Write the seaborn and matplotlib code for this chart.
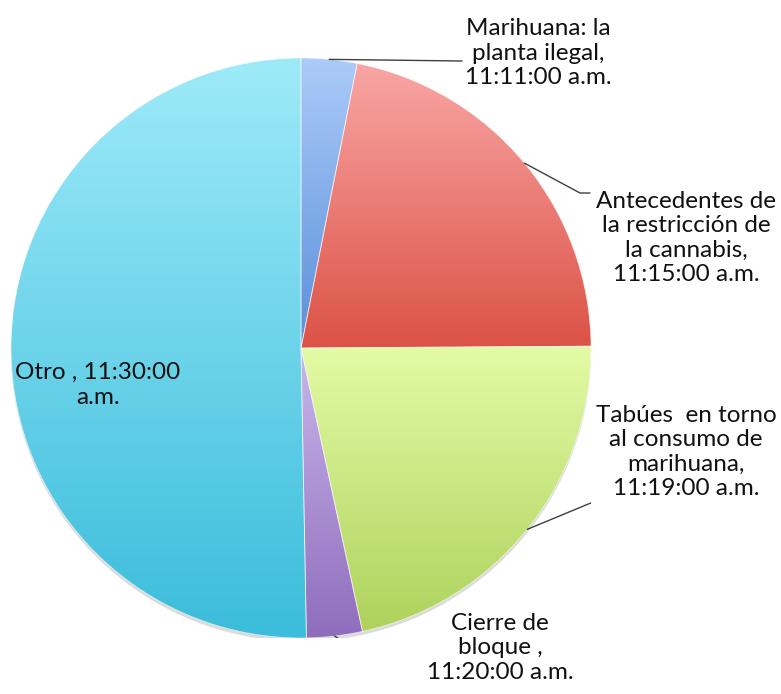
import numpy as np
import matplotlib
matplotlib.use("Agg")
import matplotlib.pyplot as plt
import seaborn as sns
from matplotlib.patches import Circle

# datos del gráfico (porcentaje aproximado de cada bloque)
labels = ["Marihuana: la\nplanta ilegal,\n11:11:00 a.m.",
          "Antecedentes de\nla restricción de\nla cannabis,\n11:15:00 a.m.",
          "Tabúes  en torno\nal consumo de\nmarihuana,\n11:19:00 a.m.",
          "Cierre de\nbloque ,\n11:20:00 a.m.",
          "Otro , 11:30:00\na.m."]
shares = [3.1, 21.8, 21.7, 3.1, 50.3]
# colores degradados (arriba, abajo)
top_colors = ["#abcbf9", "#f9a6a4", "#e3fba6", "#c9b6ea", "#9eeaf9"]
bottom_colors = ["#5a8fd9", "#dc5246", "#aed25c", "#8f6dbd", "#3bbddb"]

# posiciones de etiquetas en pixeles (x, y desde arriba) y codos de las guias
label_pos = [(538, 53), (686, 238), (686, 452), (500, 648), (98, 385)]
elbows = [[(462, 61)], [(580, 193), (590, 193)], [(598, 500), (607, 500)],
          [(415, 687), (422, 687)], None]

W, H = 781, 694
cx, cy, R = 301, 348, 290

sns.set_theme(style="white")
plt.rcParams['font.family'] = ['Lato', 'DejaVu Sans']

fig = plt.figure(figsize=(W / 100, H / 100), dpi=100)
ax = fig.add_axes([(cx - R) / W, (H - cy - R) / H, 2 * R / W, 2 * R / H])


def px(p):
    return ((p[0] - cx) / R, (cy - p[1]) / R)


# sombra suave
ax.add_patch(Circle((0.0, -0.012), 1.0, color="#9a9a9a", alpha=0.35, lw=0, zorder=0))

wedges, _ = ax.pie(shares, startangle=90, counterclock=False, radius=1.0,
                   wedgeprops=dict(edgecolor="white", linewidth=0.6))

for i, w in enumerate(wedges):
    w.set_alpha(None)
    w.set_facecolor("none")
    w.set_edgecolor((1, 1, 1, 0.6))
    w.set_zorder(2)
    bb = w.get_path().get_extents()
    grad = np.array(sns.blend_palette([top_colors[i], bottom_colors[i]], n_colors=256))
    img = ax.imshow(grad[:, None, :], extent=(bb.x0, bb.x1, bb.y0, bb.y1),
                    origin="upper", aspect="auto", zorder=1, interpolation="bilinear")
    img.set_clip_path(w)

    # linea guia
    if elbows[i] is not None:
        ang = np.deg2rad((w.theta1 + w.theta2) / 2)
        pts = [(np.cos(ang), np.sin(ang))] + [px(e) for e in elbows[i]]
        xs, ys = zip(*pts)
        ax.plot(xs, ys, color="#3f3f3f", lw=1.0, zorder=3)

    tx, ty = px(label_pos[i])
    ax.text(tx, ty, labels[i], ha="center", va="center", fontsize=17.5,
            color="#111111", linespacing=1.2, zorder=4)

ax.set_xlim(-1, 1)
ax.set_ylim(-1, 1)
ax.set_aspect("equal")
ax.axis("off")

fig.savefig("out.png", dpi=100)
